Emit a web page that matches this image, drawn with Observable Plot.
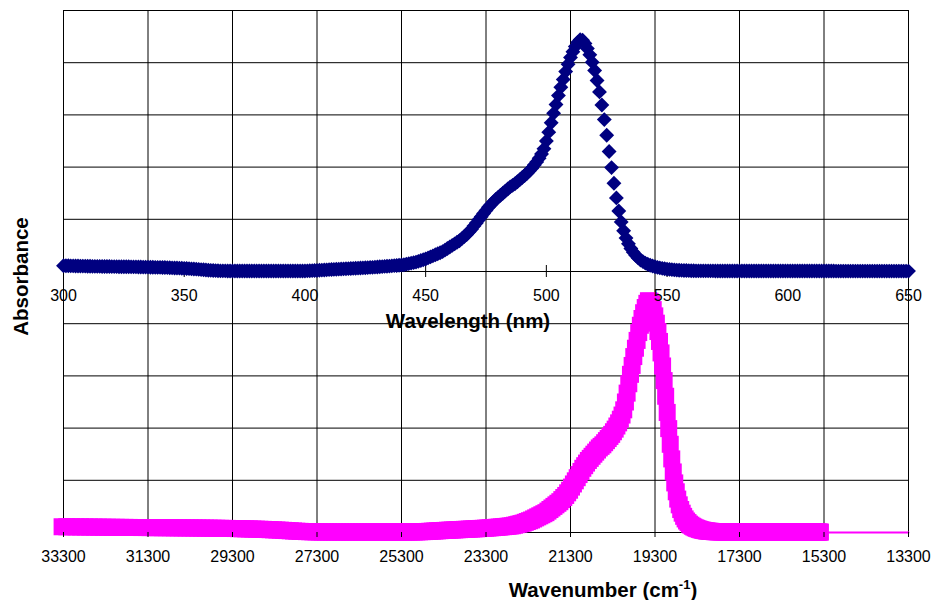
<!DOCTYPE html>
<html>
<head>
<meta charset="utf-8">
<script src="https://cdn.jsdelivr.net/npm/d3@7"></script>
<script src="https://cdn.jsdelivr.net/npm/@observablehq/plot@0.6"></script>
<style>
  body { margin: 0; background: #fff; }
  #chart { position: relative; width: 933px; height: 600px; }
  #chart svg { position: absolute; left: 0; top: 0; }
</style>
</head>
<body>
<div id="chart"></div>
<script>
const wavelengthStart = 300;
const wavelengthEnd = 650;
const absorbance = [
  0.0110,0.0110,0.0109,0.0108,0.0107,0.0106,0.0105,0.0104,0.0103,0.0102, // 300
  0.0101,0.0100,0.0099,0.0098,0.0098,0.0097,0.0096,0.0096,0.0095,0.0095, // 310
  0.0094,0.0093,0.0093,0.0092,0.0092,0.0091,0.0090,0.0090,0.0089,0.0088, // 320
  0.0088,0.0087,0.0086,0.0085,0.0084,0.0083,0.0082,0.0081,0.0080,0.0079, // 330
  0.0078,0.0077,0.0076,0.0074,0.0072,0.0070,0.0068,0.0066,0.0064,0.0062, // 340
  0.0060,0.0057,0.0054,0.0051,0.0048,0.0045,0.0041,0.0037,0.0033,0.0029, // 350
  0.0025,0.0022,0.0019,0.0017,0.0015,0.0013,0.0012,0.0011,0.0010,0.0010, // 360
  0.0010,0.0010,0.0009,0.0009,0.0009,0.0009,0.0009,0.0009,0.0009,0.0009, // 370
  0.0009,0.0009,0.0009,0.0009,0.0009,0.0009,0.0009,0.0009,0.0009,0.0009, // 380
  0.0009,0.0009,0.0009,0.0009,0.0009,0.0009,0.0009,0.0010,0.0010,0.0010, // 390
  0.0010,0.0012,0.0014,0.0016,0.0018,0.0020,0.0023,0.0026,0.0029,0.0032, // 400
  0.0035,0.0038,0.0040,0.0043,0.0045,0.0048,0.0050,0.0053,0.0055,0.0058, // 410
  0.0060,0.0062,0.0065,0.0067,0.0070,0.0072,0.0075,0.0078,0.0080,0.0083, // 420
  0.0086,0.0090,0.0093,0.0097,0.0100,0.0104,0.0108,0.0112,0.0116,0.0120, // 430
  0.0125,0.0130,0.0140,0.0150,0.0160,0.0170,0.0180,0.0195,0.0210,0.0225, // 440
  0.0240,0.0260,0.0280,0.0300,0.0320,0.0340,0.0360,0.0380,0.0410,0.0440, // 450
  0.0470,0.0500,0.0530,0.0560,0.0590,0.0630,0.0670,0.0710,0.0760,0.0810, // 460
  0.0870,0.0930,0.0990,0.1050,0.1110,0.1170,0.1230,0.1280,0.1330,0.1380, // 470
  0.1420,0.1460,0.1500,0.1540,0.1580,0.1620,0.1650,0.1680,0.1720,0.1760, // 480
  0.1800,0.1840,0.1880,0.1930,0.1980,0.2040,0.2100,0.2170,0.2250,0.2350, // 490
  0.2500,0.2670,0.2850,0.3030,0.3200,0.3370,0.3530,0.3680,0.3830,0.3970, // 500
  0.4100,0.4210,0.4310,0.4390,0.4440,0.4430,0.4370,0.4270,0.4150,0.4010, // 510
  0.3850,0.3660,0.3440,0.3190,0.2910,0.2610,0.2300,0.1990,0.1690,0.1410, // 520
  0.1160,0.0950,0.0780,0.0640,0.0530,0.0440,0.0370,0.0310,0.0260,0.0220, // 530
  0.0190,0.0160,0.0140,0.0120,0.0105,0.0090,0.0080,0.0070,0.0060,0.0052, // 540
  0.0045,0.0040,0.0035,0.0030,0.0027,0.0024,0.0022,0.0020,0.0018,0.0016, // 550
  0.0015,0.0014,0.0013,0.0013,0.0012,0.0012,0.0012,0.0011,0.0011,0.0011, // 560
  0.0010,0.0010,0.0010,0.0010,0.0010,0.0010,0.0010,0.0010,0.0010,0.0010, // 570
  0.0010,0.0010,0.0010,0.0010,0.0010,0.0010,0.0010,0.0010,0.0010,0.0010, // 580
  0.0010,0.0010,0.0010,0.0010,0.0010,0.0010,0.0010,0.0010,0.0010,0.0010, // 590
  0.0009,0.0009,0.0009,0.0009,0.0009,0.0009,0.0009,0.0009,0.0009,0.0009, // 600
  0.0009,0.0009,0.0009,0.0009,0.0009,0.0009,0.0009,0.0009,0.0009,0.0009, // 610
  0.0008,0.0008,0.0008,0.0008,0.0008,0.0008,0.0008,0.0008,0.0008,0.0008, // 620
  0.0008,0.0008,0.0008,0.0008,0.0008,0.0008,0.0008,0.0008,0.0008,0.0008, // 630
  0.0008,0.0008,0.0008,0.0008,0.0008,0.0008,0.0008,0.0008,0.0008,0.0008, // 640
  0.0008                                                                  // 650
];

const wavelengthTicks = [300, 350, 400, 450, 500, 550, 600, 650];
const wavenumberTicks = [33300, 31300, 29300, 27300, 25300, 23300, 21300, 19300, 17300, 15300, 13300];
const absorbanceGrid = [0, 0.1, 0.2, 0.3, 0.4, 0.5, 0.6, 0.7, 0.8, 0.9, 1.0];
const tailWavenumber = [15300, 13300];
const tailAbsorbance = [0, 0];

// Build tables
const wavelengths = d3.range(wavelengthStart, wavelengthEnd + 1);
const spectrum = wavelengths.map((w, i) => ({
  wavelength: w,
  wavenumber: 1e7 / w,
  absorbance: absorbance[i]
}));
const tail = tailWavenumber.map((v, i) => ({wavenumber: v, absorbance: tailAbsorbance[i]}));

const common = {
  width: 933,
  height: 600,
  marginLeft: 63,
  marginRight: 25,
  marginTop: 10,
  marginBottom: 68,
  style: {
    fontFamily: '"Liberation Sans", Arial, sans-serif',
    fontSize: "16px",
    background: "transparent",
    color: "#000",
    overflow: "visible"
  }
};

// Lower layer: grid, wavenumber axis and magenta series
const lower = Plot.plot({
  ...common,
  x: {domain: [33300, 13300]},
  y: {domain: [0, 1], axis: null},
  marks: [
    Plot.gridX(wavenumberTicks, {stroke: "#000", strokeOpacity: 1}),
    Plot.gridY(absorbanceGrid, {stroke: "#000", strokeOpacity: 1}),
    Plot.line(tail, {x: "wavenumber", y: "absorbance", stroke: "#ff00ff", strokeWidth: 2}),
    Plot.dot(spectrum, {x: "wavenumber", y: "absorbance", symbol: "square", r: 9.6, fill: "#ff00ff"}),
    Plot.axisX(wavenumberTicks, {anchor: "bottom", tickSize: 5, tickPadding: 13, tickFormat: d => String(d), label: null}),
    Plot.text(["Absorbance"], {frameAnchor: "left", textAnchor: "middle", lineAnchor: "middle", rotate: -90, dx: -42, dy: 5, fontSize: 20.5, fontWeight: "bold"}),
    Plot.text(["Wavenumber (cm-1)"], {frameAnchor: "bottom", textAnchor: "middle", lineAnchor: "middle", dx: 117, dy: 58, fontSize: 20.5, fontWeight: "bold"})
  ]
});

// Upper layer: wavelength axis and navy series
const upper = Plot.plot({
  ...common,
  x: {domain: [300, 650], axis: null},
  y: {domain: [-0.5, 0.5], axis: null},
  marks: [
    Plot.ruleX(wavelengthTicks, {x: d => d, y1: 0, y2: 0, insetTop: -6, insetBottom: -6, stroke: "#000"}),
    Plot.dot(spectrum, {x: "wavelength", y: "absorbance", symbol: "diamond2", r: 6.7, fill: "#000080"}),
    Plot.text(wavelengthTicks, {x: d => d, y: 0, dy: 24, text: d => String(d), fontSize: 16}),
    Plot.text(["Wavelength (nm)"], {frameAnchor: "middle", textAnchor: "middle", lineAnchor: "middle", dx: -18, dy: 50, fontSize: 20.5, fontWeight: "bold"})
  ]
});

const chart = document.getElementById("chart");
chart.append(lower, upper);

// Superscript for cm-1
const ns = "http://www.w3.org/2000/svg";
const title = [...lower.querySelectorAll("text")].find(e => e.textContent === "Wavenumber (cm-1)");
if (title) {
  title.textContent = "Wavenumber (cm";
  const sup = document.createElementNS(ns, "tspan");
  sup.setAttribute("dy", "-8");
  sup.setAttribute("font-size", "13");
  sup.textContent = "-1";
  const close = document.createElementNS(ns, "tspan");
  close.setAttribute("dy", "8");
  close.textContent = ")";
  title.append(sup, close);
}
</script>
</body>
</html>
